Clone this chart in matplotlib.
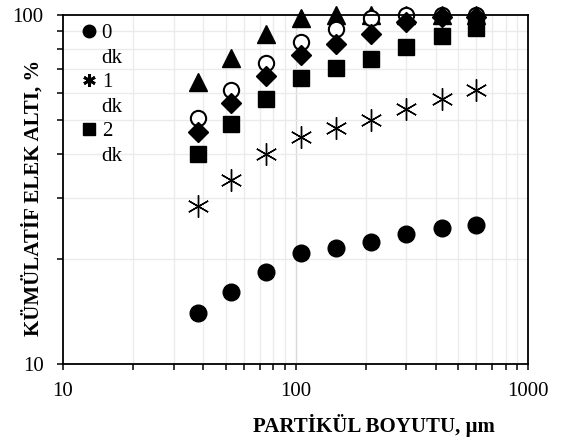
import matplotlib.pyplot as plt
from matplotlib.lines import Line2D
from matplotlib.ticker import LogLocator, NullFormatter, FormatStrFormatter

# sieve sizes, um
sizes = [38, 53, 75, 106, 150, 212, 300, 425, 600]

# cumulative passing, %
dk0 = [14.0, 16.1, 18.4, 20.8, 21.5, 22.4, 23.6, 24.5, 25.1]
dk1 = [28.4, 33.7, 40.0, 44.8, 47.6, 50.2, 53.7, 57.4, 61.0]
dk2 = [40.0, 48.6, 57.4, 66.0, 70.5, 74.7, 80.8, 87.3, 91.6]
dk3 = [46.3, 56.1, 66.9, 76.8, 82.4, 88.0, 95.7, 98.5, 99.0]
dk4 = [50.6, 61.2, 72.7, 83.8, 91.0, 97.8, 100, 100, 100]
dk5 = [64.4, 75.1, 88.0, 97.8, 100, 100, 100, 100, 100]

plt.rcParams['font.family'] = ['Liberation Serif', 'DejaVu Serif']

fig = plt.figure(figsize=(5.61, 4.44), dpi=100)
ax = fig.add_axes([0.1123, 0.18, 0.829, 0.786])

ax.set_xscale('log')
ax.set_yscale('log')
ax.set_xlim(10, 1000)
ax.set_ylim(10, 100)

# grid on minor positions, light gray
ax.xaxis.set_minor_locator(LogLocator(base=10, subs=range(2, 10)))
ax.yaxis.set_minor_locator(LogLocator(base=10, subs=range(2, 10)))
ax.xaxis.set_minor_formatter(NullFormatter())
ax.yaxis.set_minor_formatter(NullFormatter())
ax.xaxis.set_major_formatter(FormatStrFormatter('%g'))
ax.yaxis.set_major_formatter(FormatStrFormatter('%g'))
ax.grid(True, which='minor', color='#ebebeb', lw=1.0)
ax.axvline(100, color='#d9d9d9', lw=1.0, zorder=0.5)
ax.set_axisbelow(True)

ax.plot(sizes, dk5, ls='none', marker='^', ms=13, color='black', clip_on=False)
ax.plot(sizes, dk4, ls='none', marker='o', ms=11, mfc='white', mec='black',
        mew=1.5, clip_on=False)
ax.plot(sizes, dk3, ls='none', marker='D', ms=10, color='black', clip_on=False)
ax.plot(sizes, dk2, ls='none', marker='s', ms=11, color='black', clip_on=False)
ax.plot(sizes, dk1, ls='none', marker=(6, 2, 0), ms=16, color='black', mew=1.0)
ax.plot(sizes, dk0, ls='none', marker='o', ms=12, color='black')

for s in ax.spines.values():
    s.set_color('black')
    s.set_linewidth(1.3)

ax.tick_params(which='both', direction='out', length=4, width=1.1, colors='black',
               labelsize=15)
ax.tick_params(axis='x', pad=9)
ax.tick_params(axis='y', pad=10)

ax.set_xlabel('PARTİKÜL BOYUTU, µm', fontsize=15, fontweight='bold')
ax.xaxis.set_label_coords(0.669, -0.143)
ax.set_ylabel('KÜMÜLATİF ELEK ALTI, %', fontsize=15, fontweight='bold')
ax.yaxis.set_label_coords(-0.042, 0.476)

# legend (cut short as in the original)
blank = Line2D([], [], ls='none', marker='none')
handles = [Line2D([], [], ls='none', marker='o', ms=9, color='black'), blank,
           Line2D([], [], ls='none', marker=(6, 2, 0), ms=9, color='black', mew=2), blank,
           Line2D([], [], ls='none', marker='s', ms=8, color='black'), blank]
labels = ['0', 'dk', '1', 'dk', '2', 'dk']
ax.legend(handles, labels, loc='upper left', frameon=False, fontsize=15,
          handlelength=0.6, handletextpad=0.3, labelspacing=0.24,
          borderaxespad=0.0, bbox_to_anchor=(0.025, 1.0))

fig.savefig('out.png', dpi=100)
